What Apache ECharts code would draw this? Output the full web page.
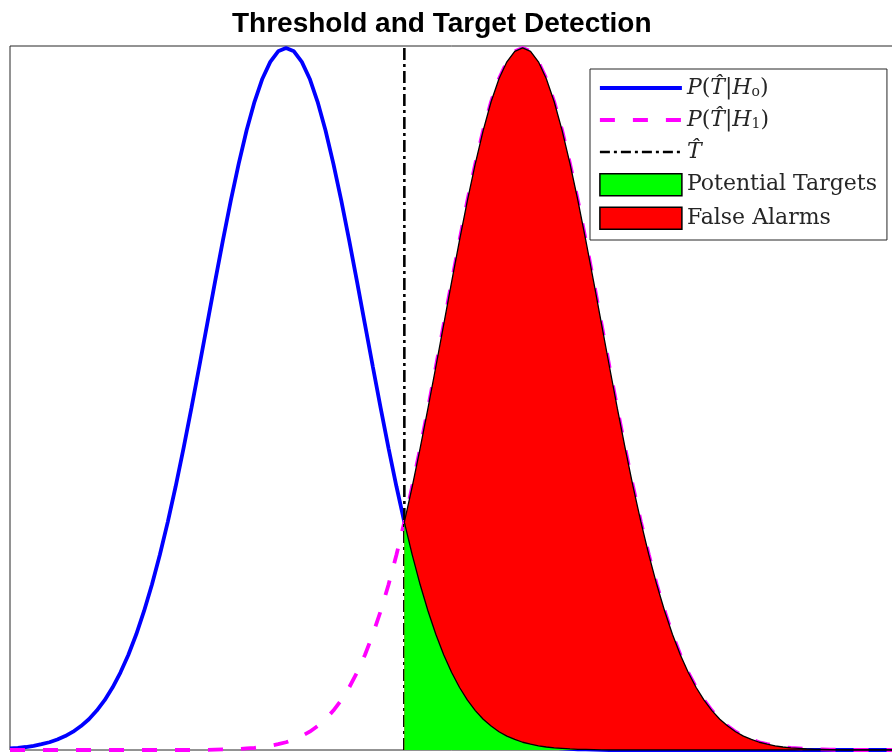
<!DOCTYPE html>
<html>
<head>
<meta charset="utf-8">
<script src="https://cdn.jsdelivr.net/npm/echarts@6/dist/echarts.min.js"></script>
<style>html,body{margin:0;padding:0;background:#fff;}#c{width:892px;height:753px;}</style>
</head>
<body>
<div id="c"></div>
<script>
// sample positions (x, in units of sigma)
const xs = [-3.5,-3.4,-3.3,-3.2,-3.1,-3.0,-2.9,-2.8,-2.7,-2.6,-2.5,-2.4,-2.3,-2.2,-2.1,-2.0,-1.9,-1.8,-1.7,-1.6,-1.5,-1.4,-1.3,-1.2,-1.1,-1.0,-0.9,-0.8,-0.7,-0.6,-0.5,-0.4,-0.3,-0.2,-0.1,
  0.0,0.1,0.2,0.3,0.4,0.5,0.6,0.7,0.8,0.9,1.0,1.1,1.2,1.3,1.4,1.5,1.6,1.7,1.8,1.9,2.0,2.1,2.2,2.3,2.4,2.5,2.6,2.7,2.8,2.9,
  3.0,3.1,3.2,3.3,3.4,3.5,3.6,3.7,3.8,3.9,4.0,4.1,4.2,4.3,4.4,4.5,4.6,4.7,4.8,4.9,5.0,5.1,5.2,5.3,5.4,5.5,5.6,5.7,5.8,5.9,
  6.0,6.1,6.2,6.3,6.4,6.5,6.6,6.7,6.8,6.9,7.0,7.1,7.2,7.3,7.4,7.5,7.6,7.7,7.8,7.9,8.0];

// P(T|H0)
const pH0 = [0.0009,0.0012,0.0017,0.0024,0.0033,0.0044,0.0060,0.0079,0.0104,0.0136,0.0175,0.0224,0.0283,0.0355,0.0440,0.0540,0.0656,0.0790,0.0940,0.1109,0.1295,0.1497,0.1714,0.1942,0.2179,0.2420,0.2661,0.2897,0.3123,0.3332,0.3521,0.3683,0.3814,0.3910,0.3970,
  0.3989,
  0.3970,0.3910,0.3814,0.3683,0.3521,0.3332,0.3123,0.2897,0.2661,0.2420,0.2179,0.1942,0.1714,0.1497,0.1295,0.1109,0.0940,0.0790,0.0656,0.0540,0.0440,0.0355,0.0283,0.0224,0.0175,0.0136,0.0104,0.0079,0.0060,0.0044,0.0033,0.0024,0.0017,0.0012,0.0009,0.0006,0.0004,0.0003,0.0002,0.0001,
  0,0,0,0,0,0,0,0,0,0,0,0,0,0,0,0,0,0,0,0,0,0,0,0,0,0,0,0,0,0,0,0,0,0,0,0,0,0,0,0];

// P(T|H1)
const pH1 = [0,0,0,0,0,0,0,0,0,0,0,0,0,0,0,0,0,0,0,0,0,0,0,0,0,
  0.0001,0.0002,0.0003,0.0004,0.0006,0.0009,0.0012,0.0017,0.0024,0.0033,0.0044,0.0060,0.0079,0.0104,0.0136,0.0175,0.0224,0.0283,0.0355,0.0440,0.0540,0.0656,0.0790,0.0940,0.1109,0.1295,0.1497,0.1714,0.1942,0.2179,0.2420,0.2661,0.2897,0.3123,0.3332,0.3521,0.3683,0.3814,0.3910,0.3970,
  0.3989,
  0.3970,0.3910,0.3814,0.3683,0.3521,0.3332,0.3123,0.2897,0.2661,0.2420,0.2179,0.1942,0.1714,0.1497,0.1295,0.1109,0.0940,0.0790,0.0656,0.0540,0.0440,0.0355,0.0283,0.0224,0.0175,0.0136,0.0104,0.0079,0.0060,0.0044,0.0033,0.0024,0.0017,0.0012,0.0009,0.0006,0.0004,0.0003,0.0002,0.0001,
  0,0,0,0,0,0,0,0,0,0];

const threshold = 1.5;
const thresholdSpan = [0, 0.4];

const pairs = (ys) => xs.map((x, i) => [x, ys[i]]);
const tail = (ys) => xs.map((x, i) => [x, ys[i]]).filter(p => p[0] >= threshold - 1e-9);

const chart = echarts.init(document.getElementById('c'), null, {renderer: 'canvas'});
const serif = 'DejaVu Serif';
const txt = '#262626';
chart.setOption({
  animation: false,
  backgroundColor: '#ffffff',
  title: {
    text: 'Threshold and Target Detection',
    left: 232, top: 10, padding: 0,
    textStyle: {fontFamily: 'Liberation Sans', fontWeight: 'bold', fontSize: 28, color: '#000'}
  },
  grid: {left: 10, top: 46, width: 907, height: 704, outerBoundsMode: 'none', containLabel: false,
         show: true, borderColor: '#262626', borderWidth: 1, backgroundColor: 'transparent'},
  xAxis: {type: 'value', min: -3.5, max: 8, axisLine: {show: false}, axisTick: {show: false}, axisLabel: {show: false}, splitLine: {show: false}},
  yAxis: {type: 'value', min: 0, max: 0.4, axisLine: {show: false}, axisTick: {show: false}, axisLabel: {show: false}, splitLine: {show: false}},
  legend: {
    orient: 'vertical', left: 590, top: 69,
    padding: [8, 10, 10, 8],
    itemWidth: 82, itemHeight: 22, itemGap: 10,
    backgroundColor: '#fff', borderColor: '#262626', borderWidth: 1, borderRadius: 0,
    selectedMode: false,
    data: [
      {name: 'H0', itemStyle: {opacity: 0}, lineStyle: {color: '#0000ff', width: 3.8, type: 'solid'}},
      {name: 'H1', itemStyle: {opacity: 0}, lineStyle: {color: '#ff00ff', width: 3.8, type: [15, 18]}},
      {name: 'That', itemStyle: {opacity: 0}, lineStyle: {color: '#000', width: 2.6, type: [10, 4, 3, 4]}},
      {name: 'Potential Targets', icon: 'rect', itemStyle: {color: '#00ff00', borderColor: '#000', borderWidth: 1.5}},
      {name: 'False Alarms', icon: 'rect', itemStyle: {color: '#ff0000', borderColor: '#000', borderWidth: 1.5}}
    ],
    formatter: function (name) {
      if (name === 'H0') return '{i|P}{r|(}{i|T\u0302}{r||}{i|H}{s|o}{r|)}';
      if (name === 'H1') return '{i|P}{r|(}{i|T\u0302}{r||}{i|H}{s|1}{r|)}';
      if (name === 'That') return '{i|T\u0302}';
      return '{r|' + name + '}';
    },
    textStyle: {
      color: txt, fontFamily: serif, fontSize: 22, lineHeight: 22,
      rich: {
        i: {fontFamily: serif, fontStyle: 'italic', fontSize: 22, color: txt, lineHeight: 22},
        r: {fontFamily: serif, fontSize: 22, color: txt, lineHeight: 22},
        s: {fontFamily: serif, fontSize: 14, color: txt, lineHeight: 6, verticalAlign: 'bottom'}
      }
    }
  },
  series: [
    {name: 'H0', type: 'line', data: pairs(pH0), symbol: 'none', lineStyle: {color: '#0000ff', width: 3.8}, itemStyle: {color: '#0000ff'}, z: 2},
    {name: 'H1', type: 'line', data: pairs(pH1), symbol: 'none', lineStyle: {color: '#ff00ff', width: 3.8, type: [15, 18]}, itemStyle: {color: '#ff00ff'}, z: 2},
    {name: 'That', type: 'line', data: thresholdSpan.map(v => [threshold, v]), symbol: 'none', lineStyle: {color: '#000', width: 2.6, type: [12, 4, 3, 4]}, itemStyle: {color: '#000'}, z: 2},
    {name: 'False Alarms', type: 'line', data: tail(pH1), symbol: 'none', lineStyle: {color: '#000', width: 1.3}, areaStyle: {color: '#ff0000', opacity: 1}, itemStyle: {color: '#ff0000'}, z: 3},
    {name: 'Potential Targets', type: 'line', data: tail(pH0), symbol: 'none', lineStyle: {color: '#000', width: 1.3}, areaStyle: {color: '#00ff00', opacity: 1}, itemStyle: {color: '#00ff00'}, z: 3}
  ]
});
</script>
</body>
</html>
